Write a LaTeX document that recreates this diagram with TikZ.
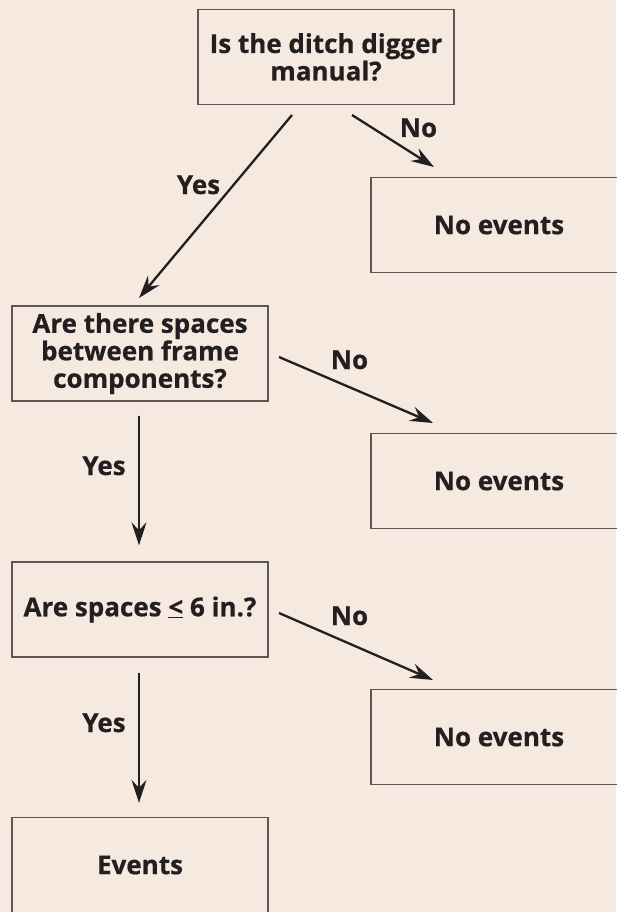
\documentclass[tikz,border=0pt]{standalone}
\usepackage{fontspec}
\setmainfont{Open Sans}[BoldFeatures={FakeBold=0.6}]
\usetikzlibrary{arrows.meta}
\definecolor{paper}{HTML}{F6E9DF}
\definecolor{ink}{HTML}{231F20}
\definecolor{frame}{HTML}{5E5652}
\tikzset{
  qbox/.style={draw=frame, line width=1.4pt, minimum width=256pt, minimum height=95pt,
    inner sep=0pt, align=center, text=ink, font=\fontsize{26}{27.5}\selectfont\bfseries},
  lbl/.style={anchor=base, text=ink, inner sep=0pt, font=\fontsize{26}{27.5}\selectfont\bfseries},
  flow/.style={draw=ink, line width=2.3pt,
    -{Stealth[length=23pt, width=15pt, inset=8pt]}}
}
\begin{document}
\begin{tikzpicture}[x=1pt, y=-1pt]
  \useasboundingbox (0,0) rectangle (616,912);
  \fill[paper] (0,0) rectangle (616,912);

  % decision and outcome boxes
  \node[qbox] (q1) at (326,57)   {Is the ditch digger\\manual?};
  \node[qbox] (n1) at (499,225)  {No events};
  \node[qbox] (q2) at (140,353.5) {Are there spaces\\between frame\\components?};
  \node[qbox] (n2) at (499,481)  {No events};
  \node[qbox] (q3) at (140,609.5) {Are spaces \underline{<} 6 in.?};
  \node[qbox] (n3) at (499,737)  {No events};
  \node[qbox] (ev) at (140,865)  {Events};

  % loose ends of the slanted connectors
  \coordinate (y1s) at (292,115);
  \coordinate (y1e) at (139,298);
  \coordinate (n1s) at (352,115);
  \coordinate (n1e) at (434,167);
  \coordinate (n2s) at (279,357);
  \coordinate (n2e) at (433,423);
  \coordinate (n3s) at (279,613);
  \coordinate (n3e) at (433,680);

  % connectors
  \draw[flow] (y1s) -- (y1e);
  \draw[flow] (n1s) -- (n1e);
  \draw[flow] (n2s) -- (n2e);
  \draw[flow] (n3s) -- (n3e);
  \draw[flow, shorten <=14pt, shorten >=16pt] ([xshift=-1pt]q2.south) -- ([xshift=-1pt]q3.north);
  \draw[flow, shorten <=15pt, shorten >=14pt] ([xshift=-1pt]q3.south) -- ([xshift=-1pt]ev.north);

  % branch labels
  \node[lbl] (ly1) at (198.5,194) {Yes};
  \node[lbl] (ln1) at (418.5,137) {No};
  \node[lbl] (ln2) at (349.5,369) {No};
  \node[lbl] (ly2) at (104,475)   {Yes};
  \node[lbl] (ln3) at (349.5,625) {No};
  \node[lbl] (ly3) at (104,732)   {Yes};
\end{tikzpicture}
\end{document}
